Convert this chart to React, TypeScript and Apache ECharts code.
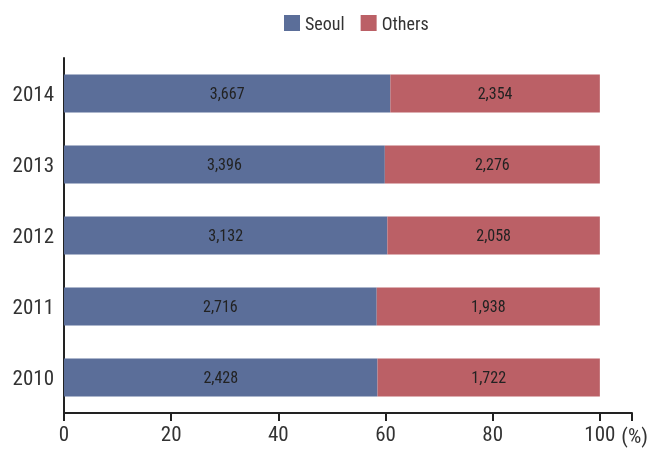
import React, { useEffect, useRef } from "react";
import * as echarts from "echarts";

const years = ["2010", "2011", "2012", "2013", "2014"];
const seoul = [2428, 2716, 3132, 3396, 3667];
const others = [1722, 1938, 2058, 2276, 2354];
const xTicks = [0, 20, 40, 60, 80, 100];

const FONT = "'Liberation Sans Narrow', 'Roboto Condensed', 'DejaVu Sans Condensed', Roboto, sans-serif";

const fmt = (n: number) => n.toLocaleString("en-US");

export default function App() {
  const ref = useRef<HTMLDivElement>(null);
  useEffect(() => {
    if (!ref.current) return;
    const chart = echarts.init(ref.current, undefined, { renderer: "svg" });
    const totals = seoul.map((s, i) => s + others[i]);
    const seoulPct = seoul.map((s, i) => (s / totals[i]) * 100);
    const othersPct = others.map((o, i) => (o / totals[i]) * 100);
    chart.setOption({
      animation: false,
      textStyle: { fontFamily: FONT },
      legend: {
        top: 9,
        left: 279,
        itemWidth: 16,
        itemHeight: 16,
        itemGap: 16,
        icon: "rect",
        textStyle: { fontFamily: FONT, fontSize: 18, color: "#333" },
        data: ["Seoul", "Others"],
      },
      grid: { left: 64, right: 22, top: 58, bottom: 36 },
      xAxis: {
        type: "value",
        min: 0,
        max: 106,
        interval: 20,
        name: "(%)",
        nameLocation: "end",
        nameGap: -27,
        nameTextStyle: { fontFamily: FONT, fontSize: 21, color: "#333", verticalAlign: "top", padding: [12, 0, 0, 0] },
        splitLine: { show: false },
        axisLine: { show: true, lineStyle: { color: "#222", width: 2 } },
        axisTick: { show: true, length: 8, lineStyle: { color: "#222", width: 2 } },
        axisLabel: {
          fontFamily: FONT,
          fontSize: 21,
          color: "#333",
          margin: 10,
          formatter: (v: number) => (xTicks.includes(v) ? String(v) : ""),
        },
      },
      yAxis: {
        type: "category",
        data: years,
        axisLine: { show: true, lineStyle: { color: "#222", width: 2 } },
        axisTick: { show: false },
        axisLabel: { fontFamily: FONT, fontSize: 21, color: "#333", margin: 10 },
      },
      series: [
        {
          name: "Seoul",
          type: "bar",
          stack: "total",
          barWidth: 38,
          itemStyle: { color: "#5b6e99" },
          label: {
            show: true,
            position: "inside",
            fontFamily: FONT,
            fontSize: 16,
            color: "#222",
            formatter: (p: any) => fmt(seoul[p.dataIndex]),
          },
          data: seoulPct,
        },
        {
          name: "Others",
          type: "bar",
          stack: "total",
          barWidth: 38,
          itemStyle: { color: "#bb6066" },
          label: {
            show: true,
            position: "inside",
            fontFamily: FONT,
            fontSize: 16,
            color: "#222",
            formatter: (p: any) => fmt(others[p.dataIndex]),
          },
          data: othersPct,
        },
      ],
    });
    return () => chart.dispose();
  }, []);
  return (
    <div
      ref={ref}
      style={{ position: "fixed", left: 0, top: 0, width: 654, height: 449 }}
    />
  );
}
